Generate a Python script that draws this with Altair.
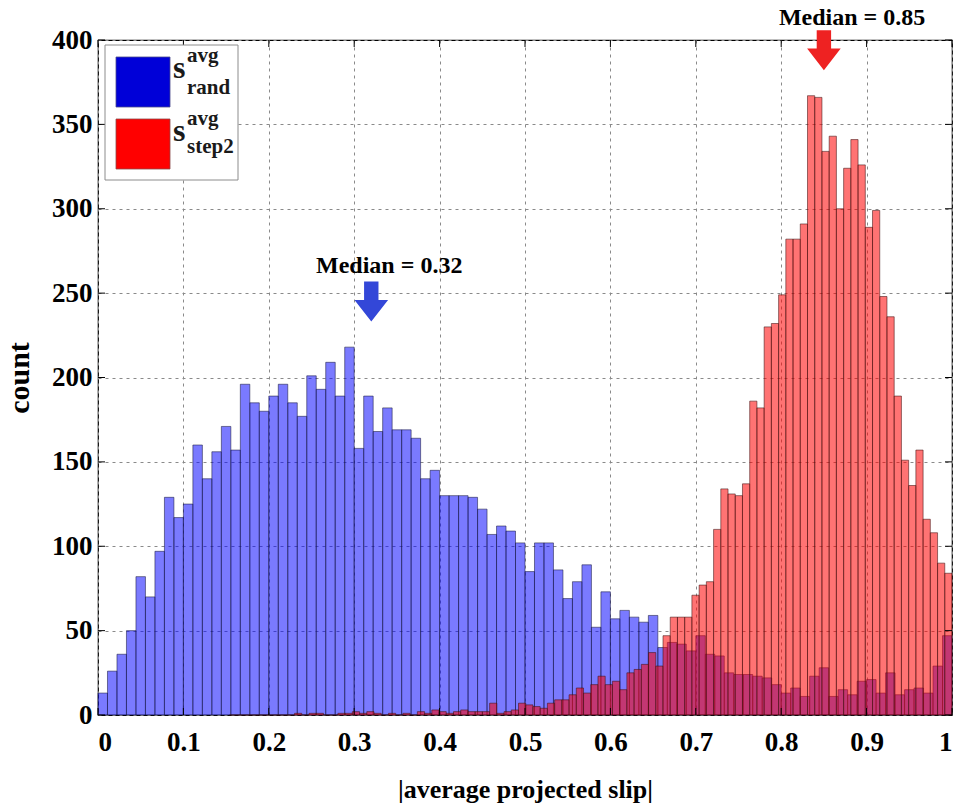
import altair as alt
import pandas as pd

# |average projected slip| histograms
# s_rand: 90 equal bins over [0, 1]
rand_lo, rand_hi = 0.0, 1.0
rand_counts = [13, 26, 36, 50, 82, 70, 97, 129, 117, 125,
               160, 140, 156, 171, 157, 196, 185, 180, 189, 196,
               185, 177, 201, 193, 209, 189, 218, 158, 189, 168,
               182, 169, 169, 164, 140, 145, 130, 130, 130, 129,
               122, 107, 112, 109, 102, 85, 102, 102, 86, 69,
               79, 89, 52, 73, 57, 62, 58, 55, 59, 40,
               43, 42, 38, 47, 36, 35, 25, 24, 24, 23,
               22, 18, 13, 16, 11, 23, 28, 11, 15, 12,
               20, 21, 13, 25, 12, 15, 16, 13, 29, 47]

# s_step2: 100 equal bins over [0.154, 1]
step2_lo, step2_hi = 0.154, 1.0
step2_counts = [0, 0, 0, 0, 0, 0, 0, 0, 0, 1,
                0, 1, 1, 0, 0, 1, 1, 2, 1, 2,
                1, 0, 1, 0, 1, 0, 2, 1, 3, 2,
                1, 2, 3, 2, 2, 2, 7, 1, 2, 3,
                7, 6, 5, 4, 7, 9, 9, 12, 16, 13,
                18, 23, 18, 20, 15, 25, 27, 30, 37, 29,
                47, 58, 58, 58, 71, 77, 79, 110, 134, 131,
                130, 137, 186, 182, 230, 232, 249, 282, 282, 291,
                367, 366, 334, 343, 300, 324, 341, 326, 289, 299,
                248, 236, 189, 151, 136, 157, 116, 108, 90, 84]

medians = [0.32, 0.85]
median_texts = ["Median = 0.32", "Median = 0.85"]
arrow_centre_y = [245, 394]
text_x = [0.341, 0.883]
text_y = [262, 409]
arrow_colors = ["#3347d8", "#ee2222"]

x_ticks = [0, 0.1, 0.2, 0.3, 0.4, 0.5, 0.6, 0.7, 0.8, 0.9, 1]
y_ticks = [0, 50, 100, 150, 200, 250, 300, 350, 400]

FONT = "Liberation Serif"
W, H = 854, 675


def bin_table(counts, lo, hi):
    w = (hi - lo) / len(counts)
    return pd.DataFrame({
        "x0": [lo + i * w for i in range(len(counts))],
        "x1": [lo + (i + 1) * w for i in range(len(counts))],
        "count": counts,
    })


xscale = alt.Scale(domain=[0, 1], nice=False, zero=False)
yscale = alt.Scale(domain=[0, 400], nice=False)

x_axis = alt.Axis(values=x_ticks, format=".1~f", title="|average projected slip|",
                  grid=True, gridDash=[3, 4], gridColor="#8a8a8a", gridWidth=1,
                  ticks=False, domain=False, labelFont=FONT, labelFontWeight="bold",
                  labelFontSize=27, labelColor="black", labelPadding=14,
                  titleFont=FONT, titleFontWeight="bold", titleFontSize=26,
                  titleColor="black", titleX=W / 2, titleY=74,
                  titleBaseline="middle")
y_axis = alt.Axis(values=y_ticks, title="count",
                  grid=True, gridDash=[3, 4], gridColor="#8a8a8a", gridWidth=1,
                  ticks=False, domain=False, labelFont=FONT, labelFontWeight="bold",
                  labelFontSize=27, labelColor="black", labelPadding=6,
                  titleFont=FONT, titleFontWeight="bold", titleFontSize=30,
                  titleColor="black", titleAngle=-90, titleX=-79, titleY=H / 2,
                  titleBaseline="middle", titleAlign="center")


def X(field):
    return alt.X(field, scale=xscale, axis=x_axis)


def Y(field):
    return alt.Y(field, scale=yscale, axis=y_axis)


rand_bars = alt.Chart(bin_table(rand_counts, rand_lo, rand_hi)).mark_rect(
    fill="#0000ff", fillOpacity=0.52, stroke="#1a1a40", strokeOpacity=0.55,
    strokeWidth=1
).encode(x=X("x0:Q"), x2="x1:Q", y=Y("count:Q"), y2=alt.datum(0))

step2_bars = alt.Chart(bin_table(step2_counts, step2_lo, step2_hi)).mark_rect(
    fill="#ff0000", fillOpacity=0.55, stroke="#401010", strokeOpacity=0.55,
    strokeWidth=1
).encode(x=X("x0:Q"), x2="x1:Q", y=Y("count:Q"), y2=alt.datum(0))

# inward tick marks on all four sides of the box
xt = pd.DataFrame({"v": x_ticks})
yt = pd.DataFrame({"v": y_ticks})
tick_style = dict(color="black", strokeWidth=1)
ticks_bottom = alt.Chart(xt).mark_rule(**tick_style).encode(
    x=X("v:Q"), y=alt.value(H), y2=alt.value(H - 7))
ticks_top = alt.Chart(xt).mark_rule(**tick_style).encode(
    x=X("v:Q"), y=alt.value(0), y2=alt.value(7))
ticks_left = alt.Chart(yt).mark_rule(**tick_style).encode(
    y=Y("v:Q"), x=alt.value(0), x2=alt.value(7))
ticks_right = alt.Chart(yt).mark_rule(**tick_style).encode(
    y=Y("v:Q"), x=alt.value(W), x2=alt.value(W - 7))

# median arrows and labels
med = pd.DataFrame({"m": medians, "ay": arrow_centre_y, "tx": text_x, "ty": text_y,
                    "label": median_texts, "c": arrow_colors})
arrow_path = "M-0.36,-1L0.36,-1L0.36,-0.08L0.84,-0.08L0,1L-0.84,-0.08L-0.36,-0.08Z"
arrows = alt.Chart(med).mark_point(
    shape=arrow_path, filled=True, size=1600, opacity=1, strokeWidth=0
).encode(x=X("m:Q"), y=Y("ay:Q"), color=alt.Color("c:N", scale=None))

median_labels = alt.Chart(med).mark_text(
    font=FONT, fontWeight="bold", fontSize=24, color="black",
    align="center", baseline="alphabetic"
).encode(x=X("tx:Q"), y=Y("ty:Q"), text="label:N")

# legend box
one = pd.DataFrame({"k": [0]})
legend_box = alt.Chart(one).mark_rect(fill="white", stroke="#8c8c8c", strokeWidth=1).encode(
    x=alt.value(7), x2=alt.value(140), y=alt.value(5), y2=alt.value(140))
swatch_rand = alt.Chart(one).mark_rect(fill="#0000d8", stroke="#4a4a8a", strokeWidth=0.8).encode(
    x=alt.value(18), x2=alt.value(72), y=alt.value(17), y2=alt.value(67))
swatch_step2 = alt.Chart(one).mark_rect(fill="#ff0000", stroke="#8a4a4a", strokeWidth=0.8).encode(
    x=alt.value(18), x2=alt.value(72), y=alt.value(79), y2=alt.value(129))

legend_entries = pd.DataFrame({
    "txt": ["s", "avg", "rand", "s", "avg", "step2"],
    "px": [75, 89, 89, 75, 89, 89],
    "py": [38, 22, 54, 101, 85, 113],
    "fs": [32, 21, 21, 32, 21, 21],
})
legend_text = alt.Chart(legend_entries).mark_text(
    font=FONT, fontWeight="bold", color="#1a1a1a", align="left", baseline="alphabetic"
).encode(
    x=alt.X("px:Q", scale=None, axis=None),
    y=alt.Y("py:Q", scale=None, axis=None),
    text="txt:N",
    size=alt.Size("fs:Q", scale=None, legend=None),
)

chart = alt.layer(
    rand_bars, step2_bars,
    ticks_bottom, ticks_top, ticks_left, ticks_right,
    legend_box, swatch_rand, swatch_step2, legend_text,
    arrows, median_labels,
).properties(
    width=W, height=H,
    autosize=alt.AutoSizeParams(type="none"),
    padding={"left": 98, "top": 40, "right": 9, "bottom": 94},
    background="white",
).configure_view(stroke="black", strokeWidth=1.2)

chart.save("out.html", embed_options={"renderer": "svg", "actions": False})
